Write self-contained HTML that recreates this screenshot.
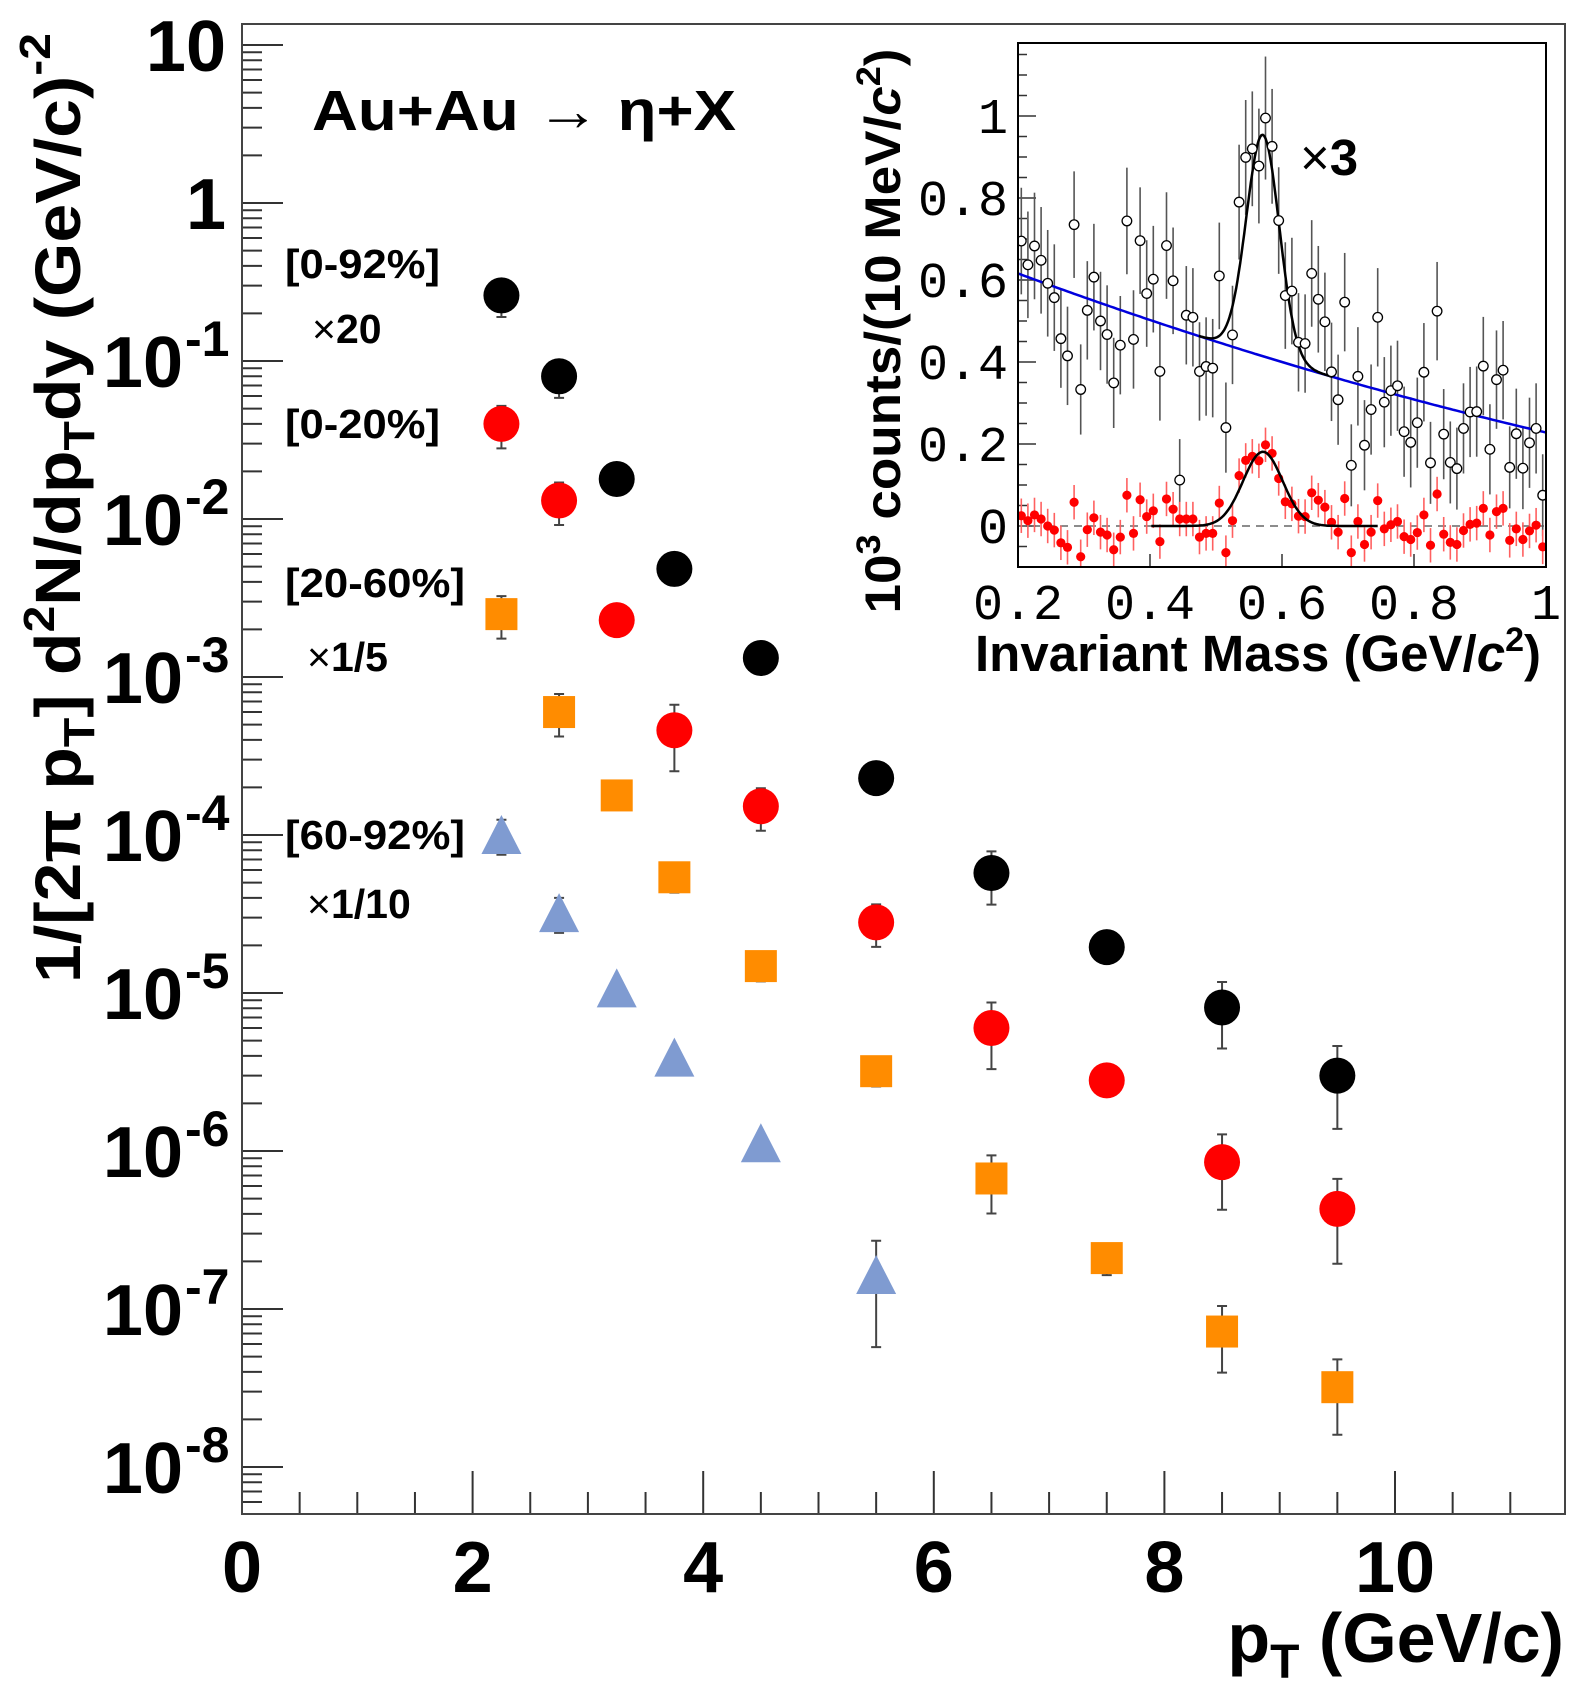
<!DOCTYPE html>
<html><head><meta charset="utf-8"><title>Au+Au eta spectra</title>
<style>
html,body{margin:0;padding:0;background:#fff;}
svg{display:block;}
text{font-family:"Liberation Sans",sans-serif;}
.mono{font-family:"Liberation Mono",monospace;}
</style></head>
<body>
<svg id="chart" xmlns="http://www.w3.org/2000/svg" width="1575" height="1703" viewBox="0 0 1575 1703">
<rect x="0" y="0" width="1575" height="1703" fill="#fff"/>
<g id="main"></g>
<g id="inset"></g>
<text x="312" y="130" font-size="57" font-weight="bold" textLength="424" lengthAdjust="spacingAndGlyphs">Au+Au → η+X</text>
<text x="285" y="278" font-size="41" font-weight="bold" textLength="155" lengthAdjust="spacingAndGlyphs">[0-92%]</text>
<text x="312" y="343" font-size="41" font-weight="bold"><tspan font-weight="normal">×</tspan>20</text>
<text x="285" y="438" font-size="41" font-weight="bold" textLength="155" lengthAdjust="spacingAndGlyphs">[0-20%]</text>
<text x="285" y="597" font-size="41" font-weight="bold" textLength="180" lengthAdjust="spacingAndGlyphs">[20-60%]</text>
<text x="307" y="671" font-size="41" font-weight="bold"><tspan font-weight="normal">×</tspan>1/5</text>
<text x="285" y="849" font-size="41" font-weight="bold" textLength="180" lengthAdjust="spacingAndGlyphs">[60-92%]</text>
<text x="307" y="918" font-size="41" font-weight="bold"><tspan font-weight="normal">×</tspan>1/10</text>
<text x="1564" y="1662" font-size="70" font-weight="bold" text-anchor="end">p<tspan font-size="48" dy="16">T</tspan><tspan dy="-16"> (GeV/c)</tspan></text>
<text transform="translate(80,508) rotate(-90)" x="0" y="0" font-size="64" font-weight="bold" text-anchor="middle" textLength="950" lengthAdjust="spacingAndGlyphs">1/[2π p<tspan font-size="44" dy="14">T</tspan><tspan dy="-14">] d</tspan><tspan font-size="44" dy="-26">2</tspan><tspan dy="26">N/dp</tspan><tspan font-size="44" dy="14">T</tspan><tspan dy="-14">dy (GeV/c)</tspan><tspan font-size="44" dy="-30">-2</tspan></text>
<text x="1258" y="671" font-size="51" font-weight="bold" text-anchor="middle">Invariant Mass (GeV/<tspan font-style="italic">c</tspan><tspan font-size="34" dy="-20">2</tspan><tspan dy="20">)</tspan></text>
<text transform="translate(900,331) rotate(-90)" x="0" y="0" font-size="50" font-weight="bold" text-anchor="middle" textLength="565" lengthAdjust="spacingAndGlyphs">10<tspan font-size="34" dy="-20">3</tspan><tspan dy="20"> counts/(10 MeV/</tspan><tspan font-style="italic">c</tspan><tspan font-size="34" dy="-20">2</tspan><tspan dy="20">)</tspan></text>
<text x="1300" y="175" font-size="51" font-weight="bold"><tspan font-weight="normal">×</tspan>3</text>
</svg>
<script>
// ---------------- main plot data ----------------
const ptBins = [2.25, 2.75, 3.25, 3.75, 4.5, 5.5, 6.5, 7.5, 8.5, 9.5];
const ptBinsPeriph = [2.25, 2.75, 3.25, 3.75, 4.5, 5.5];
const yield092 = [0.26, 0.080, 0.0179, 0.00483, 1.32e-3, 2.29e-4, 5.75e-5, 1.95e-5, 8.1e-6, 3.0e-6];
const err092 = [0.27, 0.27, 0.1, 0.1, 0.1, 0.1, 0.37, 0.15, 0.45, 0.54];
const yield020 = [0.040, 0.0131, 2.29e-3, 4.6e-4, 1.52e-4, 2.8e-5, 6.0e-6, 2.8e-6, 8.5e-7, 4.3e-7];
const err020 = [0.3, 0.3, 0.1, 0.45, 0.3, 0.3, 0.45, 0.15, 0.5, 0.55];
const yield2060 = [2.5e-3, 6.0e-4, 1.78e-4, 5.4e-5, 1.48e-5, 3.2e-6, 6.7e-7, 2.1e-7, 7.2e-8, 3.2e-8];
const err2060 = [0.3, 0.3, 0.08, 0.2, 0.2, 0.2, 0.4, 0.22, 0.45, 0.5];
const yield6092 = [1.0e-4, 3.2e-5, 1.07e-5, 3.9e-6, 1.12e-6, 1.64e-7];
const err6092 = [0.25, 0.25, 0.1, 0.1, 0.12, 0.65];
const xTickLabels = ["0", "2", "4", "6", "8", "10"];
const xTickValues = [0, 2, 4, 6, 8, 10];
const yTickExps = [1, 0, -1, -2, -3, -4, -5, -6, -7, -8];

// ---------------- inset data ----------------
const massBins = [0.205,0.215,0.225,0.235,0.245,0.255,0.265,0.275,0.285,0.295,
0.305,0.315,0.325,0.335,0.345,0.355,0.365,0.375,0.385,0.395,
0.405,0.415,0.425,0.435,0.445,0.455,0.465,0.475,0.485,0.495,
0.505,0.515,0.525,0.535,0.545,0.555,0.565,0.575,0.585,0.595,
0.605,0.615,0.625,0.635,0.645,0.655,0.665,0.675,0.685,0.695,
0.705,0.715,0.725,0.735,0.745,0.755,0.765,0.775,0.785,0.795,
0.805,0.815,0.825,0.835,0.845,0.855,0.865,0.875,0.885,0.895,
0.905,0.915,0.925,0.935,0.945,0.955,0.965,0.975,0.985,0.995];
const countsPeriph = [0.695,0.637,0.683,0.648,0.592,0.557,0.457,0.415,0.735,0.333,
0.526,0.607,0.5,0.467,0.349,0.441,0.744,0.455,0.696,0.567,
0.602,0.377,0.684,0.598,0.112,0.514,0.509,0.377,0.389,0.385,
0.61,0.24,0.466,0.79,0.899,0.92,0.878,0.995,0.926,0.745,
0.562,0.573,0.448,0.445,0.616,0.553,0.498,0.376,0.308,0.546,
0.148,0.365,0.197,0.284,0.509,0.302,0.33,0.342,0.23,0.204,
0.252,0.375,0.154,0.524,0.224,0.155,0.14,0.238,0.278,0.279,
0.39,0.187,0.357,0.38,0.143,0.225,0.141,0.203,0.238,0.075];
const countsPeriphErr = [0.13,0.13,0.13,0.13,0.13,0.13,0.12,0.12,0.13,0.11,
0.12,0.13,0.12,0.12,0.11,0.12,0.13,0.12,0.13,0.13,
0.13,0.12,0.13,0.13,0.1,0.12,0.12,0.12,0.12,0.12,
0.13,0.11,0.12,0.14,0.14,0.14,0.14,0.15,0.14,0.13,
0.13,0.13,0.12,0.12,0.13,0.13,0.12,0.12,0.11,0.12,
0.1,0.12,0.11,0.11,0.12,0.11,0.11,0.11,0.11,0.11,
0.11,0.12,0.1,0.12,0.11,0.1,0.1,0.11,0.11,0.11,
0.12,0.11,0.12,0.12,0.1,0.11,0.1,0.11,0.11,0.1];
const countsSub = [0.025,0.013,0.027,0.017,0,-0.01,-0.041,-0.052,0.058,-0.075,
-0.009,0.02,-0.015,-0.022,-0.058,-0.027,0.075,-0.018,0.064,0.023,
0.037,-0.038,0.066,0.041,0.017,0.017,0.017,-0.027,-0.018,-0.018,
0.056,-0.065,0.013,0.123,0.16,0.17,0.159,0.198,0.177,0.116,
0.059,0.054,0.024,0.023,0.081,0.063,0.046,0.009,-0.015,0.067,
-0.065,0.011,-0.045,-0.015,0.062,-0.007,0.003,0.011,-0.026,-0.033,
-0.016,0.027,-0.047,0.078,-0.02,-0.04,-0.045,-0.011,0.004,0.007,
0.043,-0.022,0.035,0.043,-0.035,-0.007,-0.033,-0.012,0.002,-0.051];
const countsSubErr = 0.042;
// fit parameters: background pol2 around m0=0.2, gaussian peaks
const bgPars = [0.616, -0.595, 0.1375];
const peakPars = [0.54, 0.571, 0.025];
const peakRange = [0.474, 0.676];
const subPeakPars = [0.181, 0.571, 0.03];
const subPeakRange = [0.402, 0.745];
const insetXTicks = [0.2, 0.4, 0.6, 0.8, 1.0];
const insetXTickLabels = ["0.2", "0.4", "0.6", "0.8", "1"];
const insetYTicks = [0, 0.2, 0.4, 0.6, 0.8, 1.0];
const insetYTickLabels = ["0", "0.2", "0.4", "0.6", "0.8", "1"];

const NS = "http://www.w3.org/2000/svg";
function mk(tag, attrs, parent) {
  const e = document.createElementNS(NS, tag);
  for (const k in attrs) e.setAttribute(k, attrs[k]);
  parent.appendChild(e);
  return e;
}
// ---------------- main axes ----------------
const L = 242, R = 1565, T = 24, B = 1514;
const X = p => L + p * 115.3;
const Y = v => 1467 - (Math.log10(v) + 8) * 158;
const main = document.getElementById('main');

for (let i = 0; i <= 22; i++) {
  const p = i * 0.5;
  if (X(p) > R) break;
  const major = i % 4 === 0;
  const t = mk('line', {x1: X(p), x2: X(p), y1: B, y2: B - (major ? 43 : 22), stroke: '#333', 'stroke-width': 2}, main);
  
  
}
xTickValues.forEach((v, i) => {
  const t = mk('text', {x: X(v), y: 1592, 'font-size': 72, 'font-weight': 'bold', 'text-anchor': 'middle'}, main);
  t.textContent = xTickLabels[i];
  
  
});
for (let e = -9; e <= 1; e++) {
  for (let m = 1; m <= 9; m++) {
    const y = Y(m * Math.pow(10, e));
    if (y > B || y < T) continue;
    const t = mk('line', {x1: L, x2: L + (m === 1 ? 41 : 20), y1: y, y2: y, stroke: '#333', 'stroke-width': 2}, main);
    
    
  }
}
yTickExps.forEach(e => {
  const y = Y(Math.pow(10, e));
  const t = mk('text', {x: e === 1 || e === 0 ? 226 : 183, y: y + 26, 'font-size': 72, 'font-weight': 'bold', 'text-anchor': 'end'}, main);
  t.textContent = e === 0 ? '1' : '10';
  
  
  if (e < 0) {
    const s = mk('text', {x: 185, y: y - 5, 'font-size': 50, 'font-weight': 'bold'}, main);
    s.textContent = String(e);
    
    
  }
});
const frame = mk('rect', {x: L, y: T, width: R - L, height: B - T, fill: 'none', stroke: '#444', 'stroke-width': 2}, main);



function drawSeries(xs, vals, errs, shape, color, name) {
  const g = mk('g', {}, main);
  
  
  xs.forEach((p, i) => {
    const cx = X(p), v = vals[i];
    const y1 = Y(v * (1 + errs[i])), y2 = Y(Math.max(v * (1 - errs[i]), 1e-12));
    const eb = mk('path', {d: `M${cx},${y1}V${y2}M${cx-5},${y1}H${cx+5}M${cx-5},${y2}H${cx+5}`, stroke: '#444', 'stroke-width': 2, fill: 'none'}, g);
    
    
    const cy = Y(v);
    let m;
    if (shape === 'circle') m = mk('circle', {cx: cx, cy: cy, r: 18, fill: color}, g);
    else if (shape === 'square') m = mk('rect', {x: cx - 16, y: cy - 16, width: 32, height: 32, fill: color}, g);
    else m = mk('polygon', {points: `${cx},${cy-20} ${cx-20},${cy+19} ${cx+20},${cy+19}`, fill: color}, g);
    
    
  });
}
drawSeries(ptBins, yield092, err092, 'circle', '#000', 'series-0-92');
drawSeries(ptBins, yield020, err020, 'circle', '#ff0000', 'series-0-20');
drawSeries(ptBins, yield2060, err2060, 'square', '#ff8c00', 'series-20-60');
drawSeries(ptBinsPeriph, yield6092, err6092, 'triangle', '#7f9bd1', 'series-60-92');

// ---------------- inset ----------------
const IL = 1018, IR = 1546, IT = 43, IB = 567;
const IX = m => IL + (m - 0.2) * 660;
const IY = v => 526 - v * 410;
const inset = document.getElementById('inset');
const clip = mk('clipPath', {id: 'insetClip'}, inset);
mk('rect', {x: IL, y: IT, width: IR - IL, height: IB - IT}, clip);

for (let i = -2; i <= 23; i++) {
  const v = i * 0.05;
  const y = IY(v);
  if (y > IB || y < IT) continue;
  const t = mk('line', {x1: IL, x2: IL + (i % 4 === 0 ? 18 : 9), y1: y, y2: y, stroke: '#333', 'stroke-width': 1.5}, inset);
  
  
}
insetYTicks.forEach((v, i) => {
  const t = mk('text', {x: 1008, y: IY(v) + 17, 'font-size': 50, 'text-anchor': 'end', class: 'mono'}, inset);
  t.textContent = insetYTickLabels[i];
  
  
});
insetXTicks.forEach((v, i) => {
  const t = mk('line', {x1: IX(v), x2: IX(v), y1: IB, y2: IB - 13, stroke: '#333', 'stroke-width': 1.5}, inset);
  
  
  const l = mk('text', {x: IX(v), y: 619, 'font-size': 50, 'text-anchor': 'middle', class: 'mono'}, inset);
  l.textContent = insetXTickLabels[i];
  
  
});
const plotG = mk('g', {'clip-path': 'url(#insetClip)'}, inset);
const zl = mk('line', {x1: IL, x2: IR, y1: IY(0), y2: IY(0), stroke: '#666', 'stroke-width': 1.5, 'stroke-dasharray': '8,6'}, plotG);



const bg = m => bgPars[0] + bgPars[1] * (m - 0.2) + bgPars[2] * (m - 0.2) * (m - 0.2);
let dBg = '', dPk = '', dSub = '';
for (let k = 0; k <= 160; k++) {
  const m = 0.2 + k * 0.005;
  dBg += (k ? 'L' : 'M') + IX(m).toFixed(1) + ',' + IY(bg(m)).toFixed(1);
}
for (let k = 0; k <= 100; k++) {
  const m = peakRange[0] + (peakRange[1] - peakRange[0]) * k / 100;
  const v = bg(m) + peakPars[0] * Math.exp(-0.5 * Math.pow((m - peakPars[1]) / peakPars[2], 2));
  dPk += (k ? 'L' : 'M') + IX(m).toFixed(1) + ',' + IY(v).toFixed(1);
  const m2 = subPeakRange[0] + (subPeakRange[1] - subPeakRange[0]) * k / 100;
  const v2 = subPeakPars[0] * Math.exp(-0.5 * Math.pow((m2 - subPeakPars[1]) / subPeakPars[2], 2));
  dSub += (k ? 'L' : 'M') + IX(m2).toFixed(1) + ',' + IY(v2).toFixed(1);
}

massBins.forEach((m, i) => {
  const x = IX(m), v = countsPeriph[i], e = countsPeriphErr[i];
  const eb = mk('line', {x1: x, x2: x, y1: IY(v + e), y2: IY(v - e), stroke: '#555', 'stroke-width': 1.6}, plotG);
  
  
});
const bgLine = mk('path', {d: dBg, fill: 'none', stroke: '#0000dd', 'stroke-width': 2.5}, plotG);


const pkLine = mk('path', {d: dPk, fill: 'none', stroke: '#000', 'stroke-width': 2.5}, plotG);


massBins.forEach((m, i) => {
  const c = mk('circle', {cx: IX(m), cy: IY(countsPeriph[i]), r: 4.8, fill: '#fff', stroke: '#000', 'stroke-width': 1.3}, plotG);
  
  
});
massBins.forEach((m, i) => {
  const x = IX(m), v = countsSub[i];
  const eb = mk('line', {x1: x, x2: x, y1: IY(v + countsSubErr), y2: IY(v - countsSubErr), stroke: '#ff6060', 'stroke-width': 1.6}, plotG);
  
  
  const c = mk('circle', {cx: x, cy: IY(v), r: 4.6, fill: '#ff0000'}, plotG);
  
  
});
const subLine = mk('path', {d: dSub, fill: 'none', stroke: '#000', 'stroke-width': 2.5}, plotG);


const iframe = mk('rect', {x: IL, y: IT, width: IR - IL, height: IB - IT, fill: 'none', stroke: '#000', 'stroke-width': 2}, inset);


</script>
</body></html>
